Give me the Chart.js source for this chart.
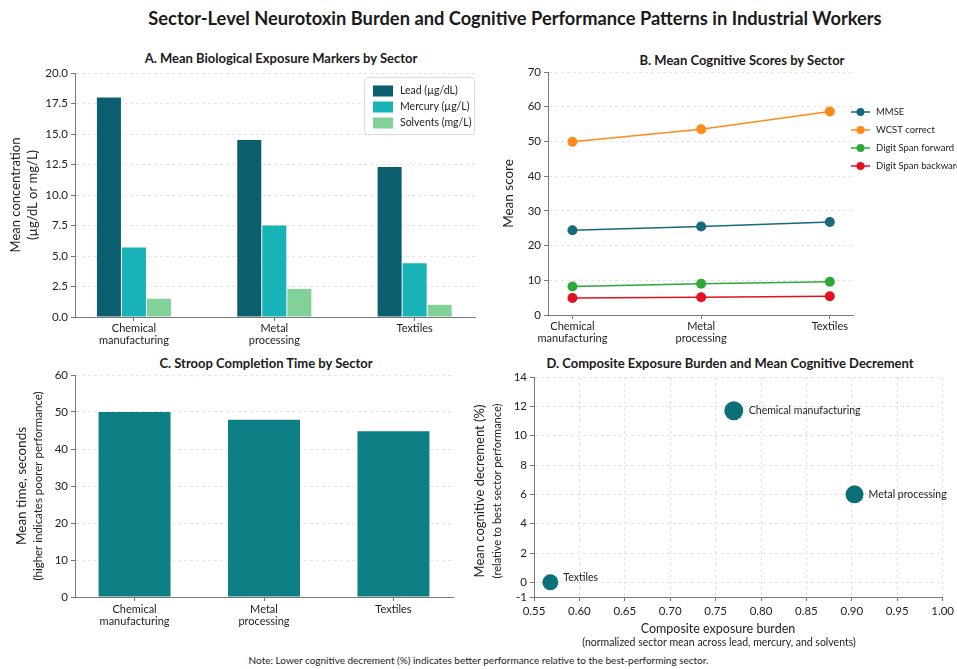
<!DOCTYPE html>
<html>
<head>
<meta charset="utf-8">
<script src="https://cdn.jsdelivr.net/npm/chart.js@4.4.1/dist/chart.umd.min.js"></script>
<style>
  html, body { margin: 0; padding: 0; background: #fff; }
  body { width: 957px; height: 669px; position: relative; overflow: hidden; font-family: Lato, "Open Sans", sans-serif; color: #1a1a1a; }
  .abs { position: absolute; }
  .ttl { position: absolute; text-align: center; font-weight: bold; white-space: nowrap; }
  #mainTitle { left: 15px; width: 1000px; top: 5px; font-size: 18.3px; line-height: 26px; }
  .ptitle { font-size: 13px; line-height: 16px; }
  #note { position: absolute; left: 0; width: 957px; top: 654px; text-align: center; font-size: 10px; color: #222; }
</style>
</head>
<body>
<div id="mainTitle" class="ttl">Sector-Level Neurotoxin Burden and Cognitive Performance Patterns in Industrial Workers</div>

<div class="ttl ptitle" style="left:81px;width:400px;top:50px;">A. Mean Biological Exposure Markers by Sector</div>
<div class="ttl ptitle" style="left:542px;width:400px;top:52px;">B. Mean Cognitive Scores by Sector</div>
<div class="ttl ptitle" style="left:66px;width:400px;top:355px;">C. Stroop Completion Time by Sector</div>
<div class="ttl ptitle" style="left:430px;width:600px;top:355px;">D. Composite Exposure Burden and Mean Cognitive Decrement</div>

<canvas id="chartA" class="abs" width="480" height="305" style="left:0;top:45px;"></canvas>
<canvas id="chartB" class="abs" width="477" height="305" style="left:480px;top:45px;"></canvas>
<canvas id="chartC" class="abs" width="480" height="295" style="left:0;top:350px;"></canvas>
<canvas id="chartD" class="abs" width="487" height="300" style="left:470px;top:350px;"></canvas>

<div id="note">Note: Lower cognitive decrement (%) indicates better performance relative to the best-performing sector.</div>

<script>
// ---- data ----
const sectorTicks = [['Chemical', 'manufacturing'], ['Metal', 'processing'], ['Textiles']];
const sectorNames = ['Chemical manufacturing', 'Metal processing', 'Textiles'];

const leadUgDl = [18.0, 14.5, 12.3];
const mercuryUgL = [5.7, 7.5, 4.4];
const solventsMgL = [1.5, 2.3, 1.0];

const mmseScore = [24.4, 25.5, 26.8];
const wcstCorrect = [49.9, 53.5, 58.6];
const digitSpanForward = [8.2, 9.0, 9.6];
const digitSpanBackward = [4.9, 5.1, 5.4];

const stroopSeconds = [50.0, 47.9, 44.8];

const exposureBurden = [0.77, 0.903, 0.568];
const cognitiveDecrement = [11.7, 6.0, 0.0];

const concTicks = [0, 2.5, 5, 7.5, 10, 12.5, 15, 17.5, 20];
const scoreTicks = [0, 10, 20, 30, 40, 50, 60, 70];
const timeTicks = [0, 10, 20, 30, 40, 50, 60];
const burdenTicks = [0.55, 0.60, 0.65, 0.70, 0.75, 0.80, 0.85, 0.90, 0.95, 1.00];
const decrementTicks = [-1, 0, 2, 4, 6, 8, 10, 12, 14];

// ---- shared styling ----
const FAMILY = 'Lato, "Open Sans", sans-serif';
Chart.defaults.font.family = FAMILY;
Chart.defaults.color = '#222';
Chart.defaults.animation = false;

const catFont = { size: 11, lineHeight: 1.1 };
const numFont = { size: 11.5 };
const gridColor = '#e4e4e4';
const spine = { display: true, color: '#7a7a7a', width: 1, dash: [3, 3] };

const sectorIdx = [0, 1, 2];
const fixTicks = vals => scale => { scale.ticks = vals.map(v => ({ value: v })); };
const fixWidth = w => scale => { scale.width = w; };
const fixHeight = h => scale => { scale.height = h; };

function sectorAxis(min, max, height, padTop) {
  return {
    type: 'linear', min: min, max: max, offset: false,
    afterBuildTicks: fixTicks(sectorIdx),
    afterFit: fixHeight(height),
    grid: { display: true, drawOnChartArea: false, drawTicks: true, tickLength: 4, tickColor: '#777', offset: false },
    border: { display: true, color: '#7a7a7a', width: 1 },
    ticks: { font: catFont, padding: padTop, maxRotation: 0, autoSkip: false, callback: v => sectorTicks[v] }
  };
}

function valueAxis(ticks, width, fmt) {
  return {
    type: 'linear', min: ticks[0], max: ticks[ticks.length - 1],
    afterBuildTicks: fixTicks(ticks),
    afterFit: fixWidth(width),
    grid: { color: gridColor, lineWidth: 1, drawTicks: true, tickLength: 4, tickColor: '#777' },
    border: spine,
    ticks: { font: numFont, padding: 3, callback: fmt }
  };
}

// axis captions, one font size per line
const axisCaptions = {
  id: 'axisCaptions',
  afterDraw(chart, args, opts) {
    const { ctx, chartArea } = chart;
    ctx.save();
    ctx.fillStyle = '#222';
    ctx.textAlign = 'center';
    ctx.textBaseline = 'middle';
    const midY = (chartArea.top + chartArea.bottom) / 2;
    (opts.y || []).forEach(line => {
      ctx.save();
      ctx.translate(line.x, midY + (line.dy || 0));
      ctx.rotate(-Math.PI / 2);
      ctx.font = line.size + 'px ' + FAMILY;
      ctx.fillText(line.text, 0, 0);
      ctx.restore();
    });
    (opts.x || []).forEach(line => {
      ctx.font = line.size + 'px ' + FAMILY;
      ctx.fillText(line.text, line.x, line.y);
    });
    ctx.restore();
  }
};

// legend framed inside the plot, upper right (panel A)
const boxLegend = {
  id: 'boxLegend',
  afterDraw(chart) {
    const { ctx, chartArea } = chart;
    const w = 110, h = 57;
    const x0 = chartArea.right - w - 1, y0 = chartArea.top + 4;
    ctx.save();
    ctx.fillStyle = 'rgba(255,255,255,0.85)';
    ctx.strokeStyle = '#dadada';
    ctx.lineWidth = 1;
    ctx.beginPath();
    ctx.roundRect(x0 + 0.5, y0 + 0.5, w, h, 3);
    ctx.fill();
    ctx.stroke();
    ctx.font = '10.5px ' + FAMILY;
    ctx.textBaseline = 'middle';
    chart.data.datasets.forEach((ds, i) => {
      const cy = y0 + 14 + i * 16;
      ctx.fillStyle = ds.backgroundColor;
      ctx.fillRect(x0 + 9, cy - 5.5, 20, 11);
      ctx.fillStyle = '#222';
      ctx.fillText(ds.label, x0 + 36, cy);
    });
    ctx.restore();
  }
};

// line+marker legend to the right of the plot (panel B)
const sideLegend = {
  id: 'sideLegend',
  afterDraw(chart) {
    const { ctx, chartArea } = chart;
    const x0 = chartArea.right - 2, y0 = chartArea.top + 40;
    ctx.save();
    ctx.font = '9.5px ' + FAMILY;
    ctx.textBaseline = 'middle';
    chart.data.datasets.forEach((ds, i) => {
      const cy = y0 + i * 18;
      ctx.strokeStyle = ds.borderColor;
      ctx.lineWidth = 1.5;
      ctx.beginPath();
      ctx.moveTo(x0, cy);
      ctx.lineTo(x0 + 19, cy);
      ctx.stroke();
      ctx.fillStyle = ds.borderColor;
      ctx.beginPath();
      ctx.arc(x0 + 9.5, cy, 4, 0, Math.PI * 2);
      ctx.fill();
      ctx.fillStyle = '#222';
      ctx.fillText(ds.label, x0 + 25, cy);
    });
    ctx.restore();
  }
};

// sector names beside each bubble (panel D)
const pointNames = {
  id: 'pointNames',
  afterDatasetsDraw(chart, args, opts) {
    const { ctx } = chart;
    const meta = chart.getDatasetMeta(0);
    ctx.save();
    ctx.font = '10.5px ' + FAMILY;
    ctx.fillStyle = '#222';
    ctx.textBaseline = 'middle';
    meta.data.forEach((pt, i) => {
      const off = opts.offsets[i];
      ctx.fillText(sectorNames[i], pt.x + off[0], pt.y + off[1]);
    });
    ctx.restore();
  }
};

const noLegend = { legend: { display: false }, tooltip: { enabled: false } };

// ---- A. exposure markers ----
new Chart(document.getElementById('chartA'), {
  type: 'bar',
  data: {
    datasets: [
      { label: 'Lead (µg/dL)', data: leadUgDl.map((v, i) => ({ x: i, y: v })), backgroundColor: '#0b5e6d' },
      { label: 'Mercury (µg/L)', data: mercuryUgL.map((v, i) => ({ x: i, y: v })), backgroundColor: '#17b3b6' },
      { label: 'Solvents (mg/L)', data: solventsMgL.map((v, i) => ({ x: i, y: v })), backgroundColor: '#82d198' }
    ]
  },
  options: {
    responsive: false,
    layout: { padding: { top: 28, right: 5, left: 0, bottom: 0 } },
    categoryPercentage: 0.535, barPercentage: 0.96,
    plugins: Object.assign({
      axisCaptions: { y: [
        { text: 'Mean concentration', size: 13, x: 16 },
        { text: '(µg/dL or mg/L)', size: 13, x: 33 }
      ] }
    }, noLegend),
    scales: {
      x: sectorAxis(-0.42, 2.43, 33, 1),
      y: valueAxis(concTicks, 75, v => v.toFixed(1))
    }
  },
  plugins: [boxLegend, axisCaptions]
});

// ---- B. cognitive scores ----
const lineSet = (label, vals, color) => ({
  label: label, data: vals.map((v, i) => ({ x: i, y: v })),
  borderColor: color, backgroundColor: color, borderWidth: 1.5,
  pointRadius: 5, pointBorderWidth: 0, pointBackgroundColor: color, tension: 0
});
new Chart(document.getElementById('chartB'), {
  type: 'line',
  data: {
    datasets: [
      lineSet('MMSE', mmseScore, '#166a79'),
      lineSet('WCST correct', wcstCorrect, '#ff8a1c'),
      lineSet('Digit Span forward', digitSpanForward, '#2fa83a'),
      lineSet('Digit Span backward', digitSpanBackward, '#e3111f')
    ]
  },
  options: {
    responsive: false,
    layout: { padding: { top: 27, right: 104, left: 0, bottom: 0 } },
    plugins: Object.assign({
      axisCaptions: { y: [ { text: 'Mean score', size: 13.5, x: 29 } ] }
    }, noLegend),
    scales: {
      x: sectorAxis(-0.19, 2.18, 35, 1),
      y: valueAxis(scoreTicks, 68, v => v)
    }
  },
  plugins: [sideLegend, axisCaptions]
});

// ---- C. Stroop time ----
new Chart(document.getElementById('chartC'), {
  type: 'bar',
  data: {
    datasets: [
      { label: 'Stroop time (s)', data: stroopSeconds.map((v, i) => ({ x: i, y: v })), backgroundColor: '#0f7f86' }
    ]
  },
  options: {
    responsive: false,
    layout: { padding: { top: 25, right: 27, left: 0, bottom: 0 } },
    categoryPercentage: 1, barPercentage: 0.556,
    plugins: Object.assign({
      axisCaptions: { y: [
        { text: 'Mean time, seconds', size: 13.5, x: 22 },
        { text: '(higher indicates poorer performance)', size: 11.5, x: 38 }
      ] }
    }, noLegend),
    scales: {
      x: sectorAxis(-0.46, 2.46, 48, 2),
      y: valueAxis(timeTicks, 75, v => v)
    }
  },
  plugins: [axisCaptions]
});

// ---- D. composite burden vs decrement ----
new Chart(document.getElementById('chartD'), {
  type: 'scatter',
  data: {
    datasets: [{
      label: 'Sectors',
      data: exposureBurden.map((v, i) => ({ x: v, y: cognitiveDecrement[i] })),
      backgroundColor: '#0d7078', borderWidth: 0,
      pointRadius: [9.5, 9, 8], pointHoverRadius: [9.5, 9, 8]
    }]
  },
  options: {
    responsive: false,
    layout: { padding: { top: 27, right: 7, left: 0, bottom: 0 } },
    plugins: Object.assign({
      pointNames: { offsets: [[15, 0], [14, 0], [13, -5]] },
      axisCaptions: {
        y: [
          { text: 'Mean cognitive decrement (%)', size: 13, x: 10, dy: 4 },
          { text: '(relative to best sector performance)', size: 11, x: 27, dy: 4 }
        ],
        x: [
          { text: 'Composite exposure burden', size: 12.5, x: 248, y: 279 },
          { text: '(normalized sector mean across lead, mercury, and solvents)', size: 10.5, x: 249, y: 293 }
        ]
      }
    }, noLegend),
    scales: {
      x: {
        type: 'linear', min: 0.55, max: 1.0,
        afterBuildTicks: fixTicks(burdenTicks),
        afterFit: fixHeight(53),
        grid: { color: gridColor, drawTicks: true, tickLength: 4, tickColor: '#777' },
        border: spine,
        ticks: { font: numFont, padding: 3, maxRotation: 0, callback: v => v.toFixed(2) }
      },
      y: valueAxis(decrementTicks, 64, v => v)
    }
  },
  plugins: [pointNames, axisCaptions]
});
</script>
</body>
</html>
